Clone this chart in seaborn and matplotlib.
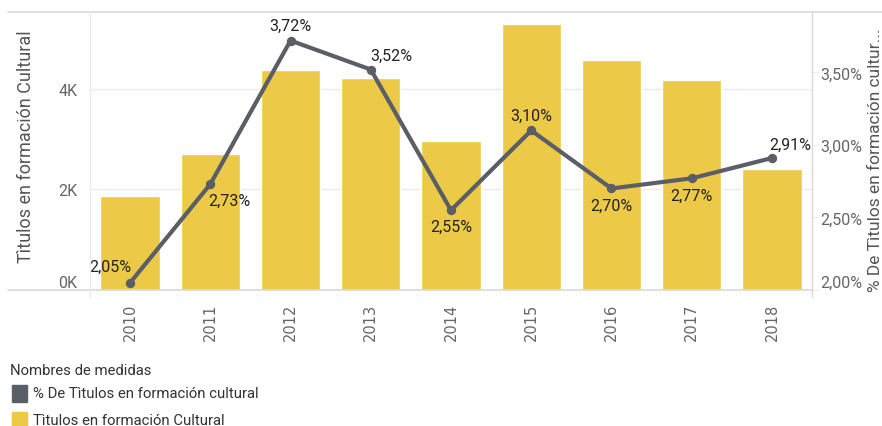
import matplotlib
matplotlib.use("Agg")
import matplotlib.pyplot as plt
import matplotlib.lines as mlines
import matplotlib.patches as mpatches
import seaborn as sns
import pandas as pd
import numpy as np

years = ["2010", "2011", "2012", "2013", "2014", "2015", "2016", "2017", "2018"]
titulos = [1860, 2700, 4370, 4210, 2960, 5300, 4580, 4180, 2400]
pct = [2.05, 2.73, 3.72, 3.52, 2.55, 3.10, 2.70, 2.77, 2.91]
left_ticks = [0, 2000, 4000]
left_ticklabels = ["0K", "2K", "4K"]
right_ticks = [2.0, 2.5, 3.0, 3.5]
right_ticklabels = ["2,00%", "2,50%", "3,00%", "3,50%"]
legend_title = "Nombres de medidas"
legend_items = ["% De Tìtulos en formación cultural", "Tìtulos en formación Cultural"]
left_label = "Tìtulos en formación Cultural"
right_label = "% De Tìtulos en formación cultur..."

BAR = "#EDC948"
LINE = "#5A5E66"
GRID = "#EBEBEB"
AXC = "#D9D9D9"
TICKC = "#666666"
FONT = ["Roboto", "DejaVu Sans"]

sns.set_style("white")
plt.rcParams["font.family"] = FONT

df = pd.DataFrame({"year": years, "titulos": titulos, "pct": pct})

fig = plt.figure(figsize=(8.82, 4.27), dpi=100)
W, H = 882, 427
L, R, T, B = 90, 812, 13, 291
ax = fig.add_axes([L / W, 1 - B / H, (R - L) / W, (B - T) / H])

sns.barplot(data=df, x="year", y="titulos", color=BAR, saturation=1, width=0.74, ax=ax, zorder=2)
ax.set_ylim(0, 5530)
ax.set_xlim(-0.5, 8.5)
ax.set_yticks(left_ticks)
ax.set_yticklabels(left_ticklabels)
for y in left_ticks[1:]:
    ax.axhline(y, color=GRID, lw=1, zorder=0)
for s in ["top", "bottom", "left", "right"]:
    ax.spines[s].set_visible(False)
ax.tick_params(axis="y", length=0, labelsize=11.5, labelcolor=TICKC, pad=9)
ax.tick_params(axis="x", which="major", length=0, labelsize=10.5, labelcolor=TICKC, rotation=90, pad=9)
for t in ax.get_xticklabels():
    t.set_family("DejaVu Sans")
ax.set_xticks(np.arange(-0.5, 9.0, 1.0), minor=True)
ax.tick_params(axis="x", which="minor", length=7, color=GRID, width=1)
ax.set_xlabel("")
ax.set_ylabel(left_label, fontsize=13, color="#555555")
ax.yaxis.set_label_coords(-0.0755, 0.52)
ax.get_yticklabels()[0].set_va("bottom")

ax2 = ax.twinx()
sns.pointplot(data=df, x="year", y="pct", color=LINE, ax=ax2, markers="o",
              markersize=4.5, linewidth=3, zorder=5)
ax2.set_xlim(-0.5, 8.5)
ax2.set_ylim(2.0, 3.917)
ax2.set_yticks(right_ticks)
ax2.set_yticklabels(right_ticklabels)
for s in ["top", "bottom", "left", "right"]:
    ax2.spines[s].set_visible(False)
ax2.tick_params(axis="y", length=5, color=GRID, labelsize=11.5, labelcolor=TICKC, pad=1)
ax2.get_yticklabels()[0].set_va("bottom")
ax2.set_ylabel(right_label, fontsize=12.5, color="#555555", rotation=90)
ax2.yaxis.set_label_coords(1.078, 0.47)
ax2.set_xlabel("")

# value labels
offsets = [(-14, 11.5), (14, -12), (0, 11), (15, 10), (0, -11.5), (0, 11), (0, -12), (0, -12), (13, 10)]
for i, (v, off) in enumerate(zip(pct, offsets)):
    txt = f"{v:.2f}%".replace(".", ",")
    ax2.annotate(txt, (i, v), xytext=off, textcoords="offset points",
                 ha="center", va="center", fontsize=11.5, color="#222222", zorder=6)

# frame lines
fig.add_artist(mlines.Line2D([8 / W, 1], [1 - T / H, 1 - T / H], color=AXC, lw=1.2))
fig.add_artist(mlines.Line2D([8 / W, R / W], [1 - B / H, 1 - B / H], color=AXC, lw=1.2))
fig.add_artist(mlines.Line2D([L / W, L / W], [1 - 298 / H, 1 - T / H], color=GRID, lw=1))
fig.add_artist(mlines.Line2D([R / W, R / W], [1 - 298 / H, 1 - T / H], color=AXC, lw=1))

# legend
fig.text(10 / W, 1 - 371 / H, legend_title, fontsize=10.7, color="#333333", va="center")
for k, (lab, col) in enumerate(zip(legend_items, [LINE, BAR])):
    yc = 394 + k * 27
    fig.add_artist(mpatches.Rectangle((12 / W, 1 - (yc + 9) / H), 15 / W, 17 / H, color=col))
    fig.text(33 / W, 1 - yc / H, lab, fontsize=10.7, color="#333333", va="center")

fig.savefig("out.png", dpi=100)
